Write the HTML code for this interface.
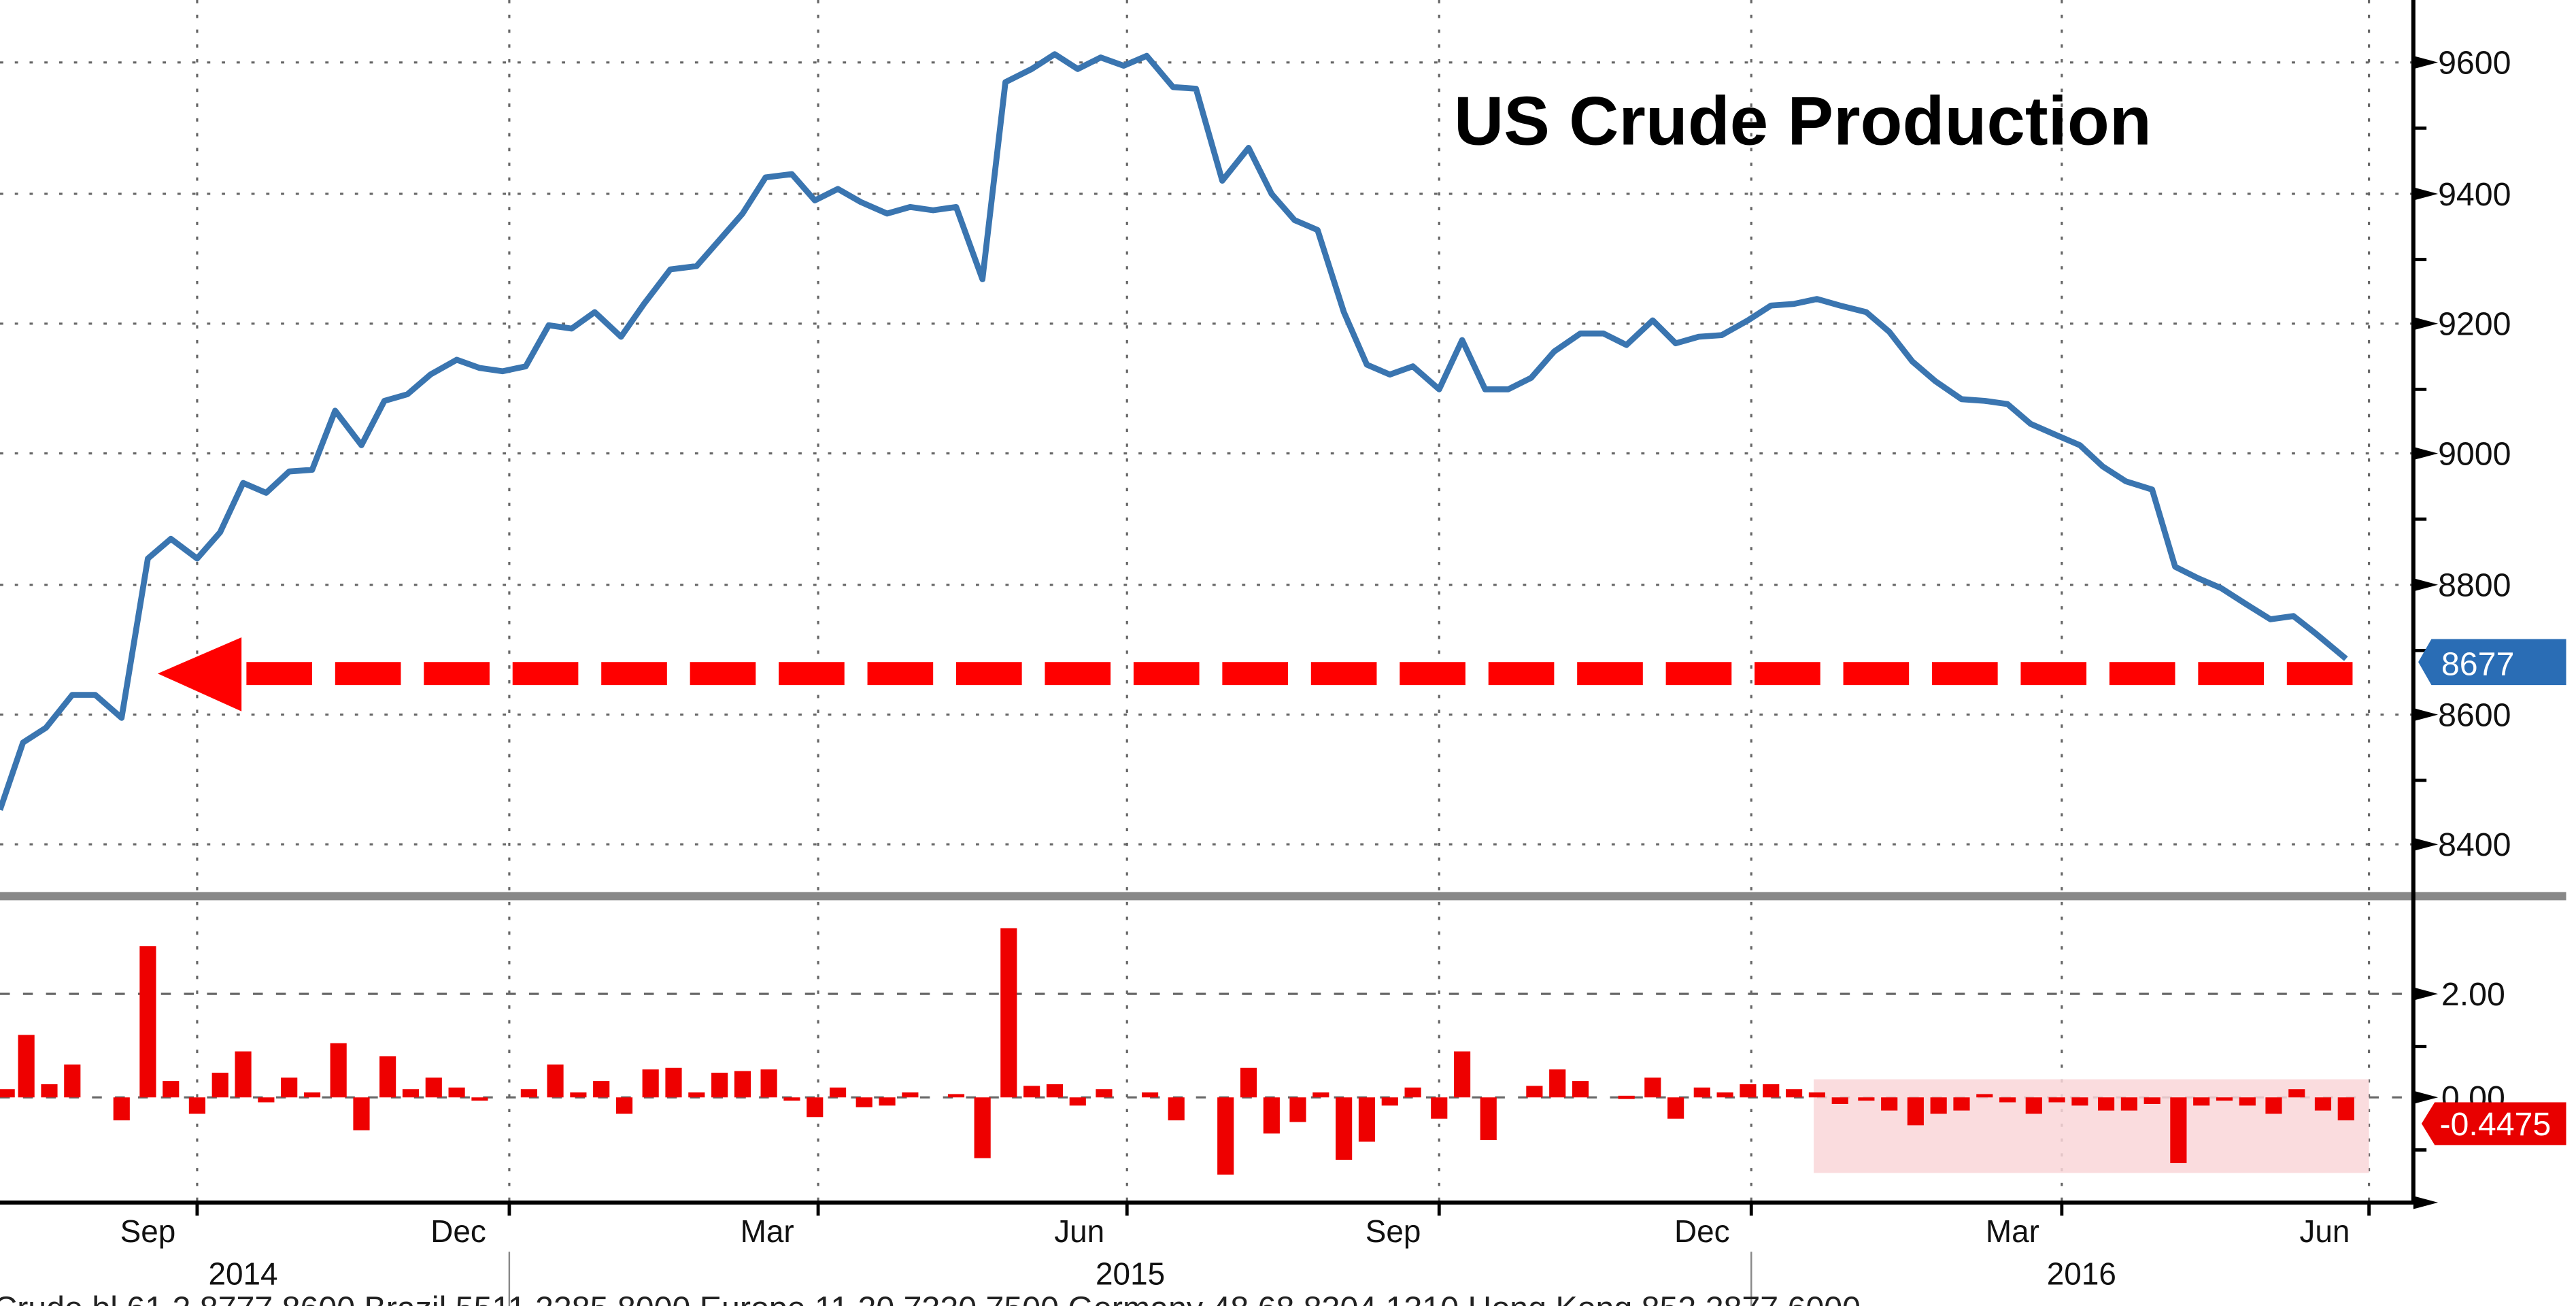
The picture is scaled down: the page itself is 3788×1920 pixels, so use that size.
<!DOCTYPE html>
<html><head><meta charset="utf-8"><style>
html,body{margin:0;padding:0;background:#fff;overflow:hidden}
svg{display:block}
text{font-family:"Liberation Sans","DejaVu Sans",sans-serif}
</style></head><body>
<svg id="s" width="3788" height="1920" viewBox="0 0 1568 795" preserveAspectRatio="none" xmlns="http://www.w3.org/2000/svg">
<rect width="1568" height="795" fill="#fff"/>
<g stroke="#666" stroke-width="1.3" stroke-dasharray="2,7">
<line x1="0" y1="38" x2="1468" y2="38"/><line x1="0" y1="118" x2="1468" y2="118"/>
<line x1="0" y1="197" x2="1468" y2="197"/><line x1="0" y1="276" x2="1468" y2="276"/>
<line x1="0" y1="356" x2="1468" y2="356"/><line x1="0" y1="435" x2="1468" y2="435"/>
<line x1="0" y1="514" x2="1468" y2="514"/>
<line x1="120" y1="0" x2="120" y2="732"/><line x1="310" y1="0" x2="310" y2="732"/>
<line x1="498" y1="0" x2="498" y2="732"/><line x1="686" y1="0" x2="686" y2="732"/>
<line x1="876" y1="0" x2="876" y2="732"/><line x1="1066" y1="0" x2="1066" y2="732"/>
<line x1="1255" y1="0" x2="1255" y2="732"/><line x1="1442" y1="0" x2="1442" y2="732"/>
</g>
<g stroke="#666" stroke-width="1.3" stroke-dasharray="6,8">
<line x1="0" y1="605" x2="1468" y2="605"/><line x1="0" y1="668" x2="1468" y2="668"/>
</g>
<rect x="1104" y="657" width="338" height="57" fill="#f9d6d8" opacity="0.85"/>
<g id="bars" fill="#ee0000"></g>
<polyline fill="none" stroke="#3a75b0" stroke-width="3.6" stroke-linejoin="round" points="0,493 14,452 28,443 44,423 58,423 74,437 90,340 104,328 120,340 134,324 148,294 162,300 176,287 190,286 204,250 220,271 234,244 248,240 262,228 278,219 292,224 306,226 320,223 334,198 348,200 362,190 378,205 392,185 408,164 424,162 438,146 452,130 466,108 482,106 496,122 510,115 524,123 540,130 554,126 568,128 582,126 598,170 612,50 628,42 642,33 656,42 670,35 684,40 698,34 714,53 728,54 744,110 760,90 774,118 788,134 802,140 818,190 832,222 846,228 860,223 876,237 890,207 904,237 918,237 932,230 946,214 962,203 976,203 990,210 1006,195 1020,209 1034,205 1048,204 1064,195 1078,186 1092,185 1106,182 1120,186 1136,190 1150,202 1164,220 1178,232 1194,243 1208,244 1222,246 1236,258 1252,265 1266,271 1280,284 1294,293 1310,298 1324,345 1338,352 1352,358 1366,367 1382,377 1396,375 1410,386 1428,401"/>
<line x1="150" y1="410" x2="1432" y2="410" stroke="#ff0000" stroke-width="14" stroke-dasharray="40,14"/>
<polygon points="96,410 147,388 147,433" fill="#ff0000"/>
<rect x="0" y="543" width="1562" height="5" fill="#888"/>
<line x1="1469" y1="0" x2="1469" y2="733" stroke="#000" stroke-width="2.5"/>
<line x1="0" y1="732" x2="1469" y2="732" stroke="#000" stroke-width="2.5"/>
<g stroke="#000" stroke-width="2">
<line x1="120" y1="732" x2="120" y2="740"/><line x1="310" y1="732" x2="310" y2="740"/>
<line x1="498" y1="732" x2="498" y2="740"/><line x1="686" y1="732" x2="686" y2="740"/>
<line x1="876" y1="732" x2="876" y2="740"/><line x1="1066" y1="732" x2="1066" y2="740"/>
<line x1="1255" y1="732" x2="1255" y2="740"/><line x1="1442" y1="732" x2="1442" y2="740"/>
<line x1="1469" y1="78" x2="1477" y2="78"/><line x1="1469" y1="158" x2="1477" y2="158"/>
<line x1="1469" y1="237" x2="1477" y2="237"/><line x1="1469" y1="316" x2="1477" y2="316"/>
<line x1="1469" y1="396" x2="1477" y2="396"/><line x1="1469" y1="475" x2="1477" y2="475"/>
<line x1="1469" y1="637" x2="1477" y2="637"/><line x1="1469" y1="700" x2="1477" y2="700"/>
</g>
<g fill="#000">
<polygon points="1469,34 1484,38 1469,42"/><polygon points="1469,114 1484,118 1469,122"/>
<polygon points="1469,193 1484,197 1469,201"/><polygon points="1469,272 1484,276 1469,280"/>
<polygon points="1469,352 1484,356 1469,360"/><polygon points="1469,431 1484,435 1469,439"/>
<polygon points="1469,510 1484,514 1469,518"/><polygon points="1469,601 1484,605 1469,609"/>
<polygon points="1469,664 1484,668 1469,672"/><polygon points="1469,728 1484,732 1469,736"/>
</g>
<g font-size="20" fill="#111">
<text x="1484" y="45">9600</text><text x="1484" y="125">9400</text>
<text x="1484" y="204">9200</text><text x="1484" y="283">9000</text>
<text x="1484" y="363">8800</text><text x="1484" y="442">8600</text>
<text x="1484" y="521">8400</text><text x="1486" y="612">2.00</text>
<text x="1486" y="675">0.00</text>
</g>
<polygon points="1472,403 1480,389 1562,389 1562,417 1480,417" fill="#2a6db5"/>
<text x="1486" y="411" font-size="20" fill="#fff">8677</text>
<polygon points="1474,684 1482,671 1562,671 1562,697 1482,697" fill="#e80000"/>
<text x="1485" y="691" font-size="20" fill="#fff">-0.4475</text>
<text x="885" y="88" font-size="42" font-weight="bold" fill="#000">US Crude Production</text>
<g font-size="19" fill="#111" text-anchor="middle">
<text x="90" y="756">Sep</text><text x="279" y="756">Dec</text><text x="467" y="756">Mar</text>
<text x="657" y="756">Jun</text><text x="848" y="756">Sep</text><text x="1036" y="756">Dec</text>
<text x="1225" y="756">Mar</text><text x="1415" y="756">Jun</text>
<text x="148" y="782">2014</text><text x="688" y="782">2015</text><text x="1267" y="782">2016</text>
</g>
<line x1="310" y1="762" x2="310" y2="795" stroke="#888" stroke-width="1"/>
<line x1="1066" y1="762" x2="1066" y2="795" stroke="#888" stroke-width="1"/>
<text x="-4" y="803" font-size="20" fill="#222">Crude bl  61.2  8777.8600  Brazil  5511.2285.8000  Europe  11.20  7320.7500  Germany  48.68  8304.1310  Hong Kong  852.2877.6000</text>
</svg>
<script>
var d=[[4,5],[16,38],[30,8],[44,20],[74,-14],[90,92],[104,10],[120,-10],[134,15],[148,28],[162,-3],[176,12],[190,3],[206,33],[220,-20],[236,25],[250,5],[264,12],[278,6],[292,-2],[322,5],[338,20],[352,3],[366,10],[380,-10],[396,17],[410,18],[424,3],[438,15],[452,16],[468,17],[482,-2],[496,-12],[510,6],[526,-6],[540,-5],[554,3],[582,2],[598,-37],[614,103],[628,7],[642,8],[656,-5],[672,5],[700,3],[716,-14],[746,-47],[760,18],[774,-22],[790,-15],[804,3],[818,-38],[832,-27],[846,-5],[860,6],[876,-13],[890,28],[906,-26],[934,7],[948,17],[962,10],[990,1],[1006,12],[1020,-13],[1036,6],[1050,3],[1064,8],[1078,8],[1092,5],[1106,3],[1120,-4],[1136,-2],[1150,-8],[1166,-17],[1180,-10],[1194,-8],[1208,2],[1222,-3],[1238,-10],[1252,-3],[1266,-5],[1282,-8],[1296,-8],[1310,-4],[1326,-40],[1340,-5],[1354,-2],[1368,-5],[1384,-10],[1398,5],[1414,-8],[1428,-14]];
var g=document.getElementById('bars'),h='';
d.forEach(function(b){var y=b[1]>0?668-b[1]:668,hh=Math.max(Math.abs(b[1]),2);h+='<rect x="'+(b[0]-5)+'" y="'+y+'" width="10" height="'+hh+'"/>';});
g.innerHTML=h;
</script>
</body></html>
